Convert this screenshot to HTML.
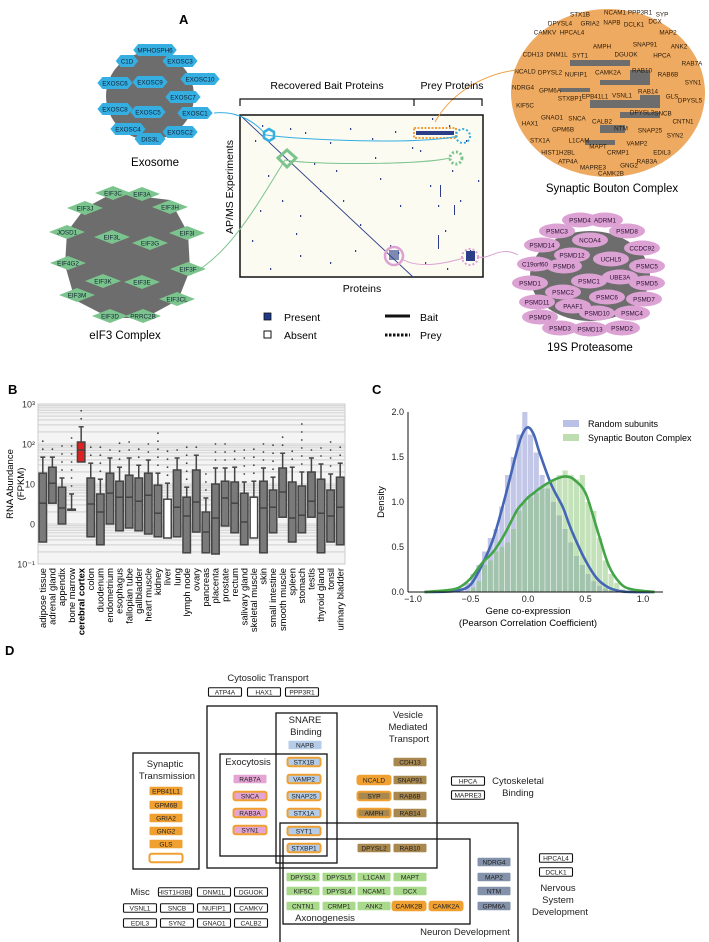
<!DOCTYPE html>
<html><head><meta charset="utf-8"><style>
html,body{margin:0;padding:0;background:#fff}
svg{display:block;font-family:"Liberation Sans",Arial,sans-serif}
</style></head><body>
<svg id="fig" width="709" height="942" viewBox="0 0 709 942" xmlns="http://www.w3.org/2000/svg">
<g id="A"></g>
<g id="B"></g>
<g id="C"></g>
<g id="D"></g>
</svg>
<script>
// ---------- Panel B data ----------
const tissues=["adipose tissue","adrenal gland","appendix","bone marrow","cerebral cortex","colon","duodenum","endometrium","esophagus","fallopian tube","gallbladder","heart muscle","kidney","liver","lung","lymph node","ovary","pancreas","placenta","prostate","rectum","salivary gland","skeletal muscle","skin","small intestine","smooth muscle","spleen","stomach","testis","thyroid gland","tonsil","urinary bladder"];
const q3Vals=[1.27,1.42,0.92,0.37,2.05,1.15,0.75,1.27,1.07,1.22,1.15,1.27,0.97,0.62,1.35,0.67,1.35,0.3,1.0,1.07,1.05,0.77,0.67,1.07,0.85,1.4,1.05,0.95,1.3,1.12,0.85,1.17];
const medVals=[0.52,1.02,0.4,0.37,1.85,0.5,0.3,0.77,0.67,0.67,0.57,0.72,0.27,0.62,0.42,0.2,0.55,-0.2,0.15,0.65,0.52,0.05,0.67,0.4,0.42,0.8,0.15,0.22,0.57,0.27,0.2,0.42];
const q1Vals=[-0.45,0.52,0.0,0.37,1.55,-0.32,-0.52,0.0,-0.17,-0.1,-0.17,-0.25,-0.32,-0.35,-0.32,-0.72,-0.2,-0.72,-0.75,-0.05,-0.22,-0.52,-0.35,-0.72,-0.22,0.17,-0.45,-0.22,0.17,-0.72,-0.45,-0.52];
const hiVals=[1.67,1.67,1.15,0.75,2.43,1.52,1.12,1.65,1.42,1.65,1.47,1.6,1.27,1.02,1.65,0.92,1.72,0.65,1.4,1.4,1.42,1.05,1.07,1.4,1.17,1.77,1.42,1.3,1.65,1.5,1.25,1.52];
const outMax=[2.1,2.05,2.0,2.2,2.95,2.05,1.95,2.0,2.1,2.05,2.05,2.05,2.3,2.0,2.0,2.0,2.0,1.4,2.1,2.0,2.0,2.0,2.0,2.0,2.0,2.2,2.0,2.55,2.0,2.05,2.05,2.0];
const bTicks=["10³","10²","10","0","10⁻¹"];
const bTickVals=[3,2,1,0,-1];
// ---------- Panel C data ----------
const binStarts=[-0.6,-0.55,-0.5,-0.45,-0.4,-0.35,-0.3,-0.25,-0.2,-0.15,-0.1,-0.05,0,0.05,0.1,0.15,0.2,0.25,0.3,0.35,0.4,0.45,0.5,0.55,0.6,0.65,0.7,0.75,0.8];
const randomHist=[0.02,0.1,0.2,0.3,0.45,0.6,0.7,0.95,1.3,1.5,1.75,2.0,1.75,1.55,1.3,1.15,1.0,0.85,0.7,0.55,0.4,0.3,0.2,0.12,0.07,0.04,0.02,0,0];
const boutonHist=[0,0,0.05,0.12,0.3,0.35,0.45,0.5,0.55,0.7,0.9,1.0,1.05,1.1,1.15,1.2,1.25,1.3,1.35,1.3,1.25,1.3,1.0,0.9,0.6,0.35,0.2,0.1,0.03];
const kdeX=[-0.9,-0.7,-0.6,-0.5,-0.4,-0.3,-0.2,-0.1,-0.05,0,0.05,0.1,0.2,0.3,0.35,0.4,0.5,0.6,0.7,0.8,0.9,1.1];
const randomKde=[0,0.005,0.02,0.08,0.3,0.6,1.05,1.55,1.75,1.83,1.75,1.55,1.2,0.95,0.78,0.62,0.35,0.15,0.05,0.01,0,0];
const boutonKde=[0,0.02,0.05,0.15,0.32,0.45,0.65,0.9,0.98,1.05,1.1,1.15,1.23,1.28,1.28,1.25,1.1,0.7,0.3,0.1,0.03,0];
const cXTicks=[-1,-0.5,0,0.5,1];
const cXLabels=["−1.0","−0.5","0.0","0.5","1.0"];
const cYTicks=[0,0.5,1,1.5,2];
const cYLabels=["0.0","0.5","1.0","1.5","2.0"];

const NS="http://www.w3.org/2000/svg";
function mk(parent,tag,attrs,text){const e=document.createElementNS(NS,tag);for(const k in attrs)e.setAttribute(k,attrs[k]);if(text!==undefined)e.textContent=text;parent.appendChild(e);return e;}

// ================= PANEL A =================
const A=document.getElementById('A');
let t=mk(A,'text',{x:179,y:24,'font-size':13,'font-weight':'bold'},'A');


let g=mk(A,'g',{});


mk(g,'circle',{cx:150,cy:96,r:44,fill:'#6d6d6d'});
const exo=[["MPHOSPH6",155,50],["C1D",127,61],["EXOSC3",180,61],["EXOSC6",115,83],["EXOSC9",150,82],["EXOSC10",200,79],["EXOSC7",183,97],["EXOSC8",115,109],["EXOSC5",148,112],["EXOSC1",195,113],["EXOSC4",128,129],["EXOSC2",180,132],["DIS3L",150,139]];
exo.forEach(n=>{const w=n[0].length*4.2+10;const x=n[1],y=n[2];
 let p=mk(g,'polygon',{points:`${x-w/2},${y} ${x-w/2+5},${y-6} ${x+w/2-5},${y-6} ${x+w/2},${y} ${x+w/2-5},${y+6} ${x-w/2+5},${y+6}`,fill:'#35aee2'});
 
 
 mk(g,'text',{x:x,y:y+2.3,'font-size':6.3,'text-anchor':'middle',fill:'#123'},n[0]);});
t=mk(A,'text',{x:155,y:166,'font-size':11.5,'text-anchor':'middle'},'Exosome');


g=mk(A,'g',{});


mk(g,'polygon',{points:'113,193 170,200 188,233 190,270 178,300 145,318 110,318 75,300 65,265 67,232 85,208',fill:'#6d6d6d'});
const eif=[["EIF3C",113,193],["EIF3A",142,194],["EIF3J",85,208],["EIF3H",170,207],["JOSD1",67,232],["EIF3L",112,237],["EIF3G",150,243],["EIF3I",187,233],["EIF4G2",68,263],["EIF3F",188,269],["EIF3K",103,281],["EIF3E",142,282],["EIF3M",77,295],["EIF3CL",177,299],["EIF3D",110,316],["PRRC2B",143,316]];
eif.forEach(n=>{const x=n[1],y=n[2];
 let p=mk(g,'polygon',{points:`${x-18},${y} ${x},${y-7} ${x+18},${y} ${x},${y+7}`,fill:'#7cc48e'});
 
 
 mk(g,'text',{x:x,y:y+2.3,'font-size':6.3,'text-anchor':'middle',fill:'#123'},n[0]);});
t=mk(A,'text',{x:125,y:339,'font-size':11.5,'text-anchor':'middle'},'eIF3 Complex');


g=mk(A,'g',{});


mk(g,'ellipse',{cx:608,cy:93,rx:97,ry:84,fill:'#eeaa60'});
[[570,60,60,6],[600,80,50,5],[590,100,70,8],[560,88,30,4],[620,112,40,6],[600,125,25,8],[630,70,20,10],[585,140,30,5],[640,95,20,5]].forEach(r=>mk(g,'rect',{x:r[0],y:r[1],width:r[2],height:r[3],fill:'#6d6d6d'}));
const bout=[["STX1B",580,14],["NCAM1",615,12],["PPP3R1",640,12],["SYP",662,14],["DPYSL4",560,23],["GRIA2",590,23],["NAPB",612,22],["DCLK1",634,24],["DCX",655,21],["CAMKV",545,32],["HPCAL4",572,32],["MAP2",668,32],["AMPH",602,46],["SNAP91",645,44],["ANK2",679,46],["CDH13",533,54],["DNM1L",557,54],["SYT1",580,55],["DGUOK",626,54],["HPCA",662,55],["RAB7A",692,63],["NCALD",525,71],["DPYSL2",550,72],["NUFIP1",576,74],["CAMK2A",608,72],["RAB10",642,70],["RAB6B",668,74],["SYN1",693,82],["NDRG4",523,87],["GPM6A",550,90],["STXBP1",570,98],["EPB41L1",595,96],["VSNL1",622,95],["RAB14",648,91],["GLS",672,96],["DPYSL5",690,100],["KIF5C",525,105],["DPYSL3",642,112],["SNCB",663,113],["GNAO1",552,117],["SNCA",577,118],["CALB2",602,121],["CNTN1",683,121],["HAX1",530,123],["GPM6B",563,129],["NTM",621,128],["SNAP25",650,130],["SYN2",675,135],["STX1A",540,140],["L1CAM",579,140],["MAPT",598,146],["VAMP2",637,143],["HIST1H2BL",558,152],["CRMP1",618,152],["EDIL3",662,152],["ATP4A",568,161],["RAB3A",647,161],["MAPRE3",593,167],["GNG2",629,165],["CAMK2B",611,173]];
bout.forEach(n=>{let tt=mk(g,'text',{x:n[1],y:n[2]+2.3,'font-size':6.3,'text-anchor':'middle',fill:'#2a1a0a'},n[0]);
 
 });
t=mk(A,'text',{x:612,y:192,'font-size':11.5,'text-anchor':'middle'},'Synaptic Bouton Complex');


g=mk(A,'g',{});


mk(g,'ellipse',{cx:590,cy:276,rx:60,ry:45,fill:'#6d6d6d'});
const prot=[["PSMD4",580,220],["ADRM1",605,220],["PSMC3",557,231],["PSMD8",627,231],["NCOA4",590,240],["PSMD14",542,245],["CCDC92",642,248],["PSMD12",572,255],["UCHL5",611,259],["C19orf60",535,264],["PSMD6",564,266],["PSMC5",647,266],["UBE3A",620,277],["PSMC1",589,281],["PSMD1",530,283],["PSMD5",647,283],["PSMC2",563,292],["PSMC6",607,297],["PSMD7",644,299],["PSMD11",537,302],["PAAF1",573,306],["PSMD10",597,313],["PSMC4",632,313],["PSMD9",540,317],["PSMD3",560,328],["PSMD13",590,329],["PSMD2",622,328]];
prot.forEach(n=>{let e=mk(g,'ellipse',{cx:n[1],cy:n[2],rx:18,ry:7.5,fill:'#dca2d4'});
 
 });
prot.forEach(n=>mk(g,'text',{x:n[1],y:n[2]+2.3,'font-size':6.3,'text-anchor':'middle',fill:'#2a1030'},n[0]));
t=mk(A,'text',{x:590,y:351,'font-size':11.5,'text-anchor':'middle'},'19S Proteasome');


g=mk(A,'g',{});


mk(g,'rect',{x:240,y:115,width:243,height:162,fill:'#fbfbf1',stroke:'#111','stroke-width':1.5});
mk(g,'line',{x1:241,y1:116,x2:413,y2:277,stroke:'#2c3e88','stroke-width':0.9});
const dots=[[255,140],[262,125],[290,128],[305,132],[330,142],[350,128],[372,138],[395,131],[412,147],[268,175],[282,200],[300,215],[320,190],[343,200],[360,224],[380,178],[400,205],[252,240],[270,268],[300,255],[330,262],[355,250],[390,245],[420,150],[430,185],[438,205],[445,230],[452,170],[460,200],[470,250],[478,180],[425,262],[447,268],[466,140],[432,118],[449,125],[314,163],[336,170],[375,157],[398,252],[260,210],[296,233]];
dots.forEach(d=>mk(g,'rect',{x:d[0],y:d[1],width:1.2,height:2,fill:'#2c3e88'}));
[[440,185,12],[454,205,10],[438,235,14]].forEach(d=>mk(g,'rect',{x:d[0],y:d[1],width:1,height:d[2],fill:'#2c3e88'}));
mk(g,'rect',{x:414,y:128,width:42,height:10,fill:'none',stroke:'#f0a040','stroke-width':2,'stroke-dasharray':'2,1.5'});
mk(g,'rect',{x:416,y:131,width:38,height:4,fill:'#2c3e88'});
mk(g,'circle',{cx:463,cy:136,r:7,fill:'none',stroke:'#35aee2','stroke-width':2,'stroke-dasharray':'2,2'});
mk(g,'circle',{cx:456,cy:158,r:6,fill:'none',stroke:'#7cc48e','stroke-width':3,'stroke-dasharray':'2,2'});
mk(g,'circle',{cx:470,cy:257,r:8,fill:'none',stroke:'#dca2d4','stroke-width':2,'stroke-dasharray':'2,2'});
mk(g,'rect',{x:466,y:251,width:9,height:10,fill:'#2c3e88'});
mk(g,'polygon',{points:'264,132 269,129 274,132 274,138 269,141 264,138',fill:'none',stroke:'#35aee2','stroke-width':2.5});
mk(g,'polygon',{points:'287,150 296,158 287,167 278,158',fill:'none',stroke:'#7cc48e','stroke-width':3});
mk(g,'circle',{cx:394,cy:256,r:9,fill:'none',stroke:'#dca2d4','stroke-width':2.5});
mk(g,'rect',{x:389,y:250,width:10,height:10,fill:'#2c3e88',opacity:0.6});
mk(A,'path',{d:'M214,113 C240,110 258,125 266,135 C300,140 420,145 458,136',fill:'none',stroke:'#35aee2','stroke-width':1});
mk(A,'path',{d:'M190,275 C230,255 260,200 285,160 C310,165 420,165 450,158',fill:'none',stroke:'#7cc48e','stroke-width':1});
mk(A,'path',{d:'M516,70 C480,75 450,95 435,122',fill:'none',stroke:'#f0a040','stroke-width':1});
mk(A,'path',{d:'M518,255 C500,245 490,260 478,257 M402,259 C420,270 450,262 464,258',fill:'none',stroke:'#dca2d4','stroke-width':1});
mk(A,'path',{d:'M240,106 V99 H414 V106 M414,99 H482 V106',fill:'none',stroke:'#111','stroke-width':1.2});
t=mk(A,'text',{x:327,y:89,'font-size':10.5,'text-anchor':'middle'},'Recovered Bait Proteins');


t=mk(A,'text',{x:452,y:89,'font-size':10.5,'text-anchor':'middle'},'Prey Proteins');


t=mk(A,'text',{x:362,y:292,'font-size':10.5,'text-anchor':'middle'},'Proteins');


t=mk(A,'text',{x:0,y:0,'font-size':10.5,'text-anchor':'middle',transform:'translate(233,187) rotate(-90)'},'AP/MS Experiments');


g=mk(A,'g',{});


mk(g,'rect',{x:264,y:313,width:7,height:7,fill:'#1f3a8a',stroke:'#111','stroke-width':0.8});
mk(g,'text',{x:284,y:321,'font-size':10.5},'Present');
mk(g,'rect',{x:264,y:331,width:7,height:7,fill:'#fff',stroke:'#111','stroke-width':1});
mk(g,'text',{x:284,y:339,'font-size':10.5},'Absent');
mk(g,'line',{x1:385,y1:316,x2:410,y2:316,stroke:'#111','stroke-width':3});
mk(g,'text',{x:420,y:321,'font-size':10.5},'Bait');
mk(g,'line',{x1:385,y1:335,x2:410,y2:335,stroke:'#111','stroke-width':3,'stroke-dasharray':'2.5,1.5'});
mk(g,'text',{x:420,y:339,'font-size':10.5},'Prey');

// ================= PANEL B =================
const B=document.getElementById('B');
const bx0=38,bx1=345,by0=404,by1=564;
const yB=l=>by0+(3-l)*(by1-by0)/4;
const cw=(bx1-bx0)/tissues.length;
const xB=i=>bx0+(i+0.5)*cw;
t=mk(B,'text',{x:8,y:394,'font-size':13,'font-weight':'bold'},'B');


mk(B,'rect',{x:bx0,y:by0,width:bx1-bx0,height:by1-by0,fill:'#f4f4f4',stroke:'#ccc'});
for(let d=-1;d<3;d++)for(let k=1;k<10;k++){const l=d+Math.log10(k);mk(B,'line',{x1:bx0,x2:bx1,y1:yB(l),y2:yB(l),stroke:'#c8c8c8','stroke-width':0.8});}
bTickVals.forEach((v,i)=>{let tt=mk(B,'text',{x:bx0-3,y:yB(v)+3.5,'font-size':9,'text-anchor':'end',fill:'#333'},bTicks[i]);
 
 });
t=mk(B,'text',{x:0,y:0,'font-size':9.5,'text-anchor':'middle',transform:'translate(13,484) rotate(-90)'},'RNA Abundance');


mk(B,'text',{x:0,y:0,'font-size':9.5,'text-anchor':'middle',transform:'translate(24,484) rotate(-90)'},'(FPKM)');
tissues.forEach((name,i)=>{
 const x=xB(i),cc=i===4;const w=cw*0.78;
 const gg=mk(B,'g',{});
 
 
 for(let l=hiVals[i]+0.2;l<=outMax[i]+0.001;l+=0.2)mk(gg,'circle',{cx:x,cy:yB(l),r:0.9,fill:'#444'});
 mk(gg,'line',{x1:x,x2:x,y1:yB(hiVals[i]),y2:yB(q3Vals[i]),stroke:'#444','stroke-width':1.5});
 mk(gg,'line',{x1:x-w/3,x2:x+w/3,y1:yB(hiVals[i]),y2:yB(hiVals[i]),stroke:'#444','stroke-width':1.5});
 const white=(name==='liver'||name==='skeletal muscle');
 mk(gg,'rect',{x:x-w/2,y:yB(q3Vals[i]),width:w,height:Math.max(1,yB(q1Vals[i])-yB(q3Vals[i])),fill:cc?'#e02020':(white?'#fff':'#7a7a7a'),stroke:'#444','stroke-width':1.5});
 if(!white)mk(gg,'line',{x1:x-w/2,x2:x+w/2,y1:yB(medVals[i]),y2:yB(medVals[i]),stroke:'#444','stroke-width':1.5});
 let tt=mk(B,'text',{x:0,y:0,'font-size':9.4,'text-anchor':'end','font-weight':cc?'bold':'normal',transform:`translate(${x+3.2},568) rotate(-90)`},name);
 
 
});

// ================= PANEL C =================
const C=document.getElementById('C');
const cx0=413,cx1=643,cy0=592,cy1=412;
const xC=v=>cx0+(v+1)*(cx1-cx0)/2;
const yC=v=>cy0-(v)*(cy0-cy1)/2;
t=mk(C,'text',{x:372,y:394,'font-size':13,'font-weight':'bold'},'C');


const bw=0.05;
binStarts.forEach((b,i)=>{let r=mk(C,'rect',{x:xC(b),y:yC(randomHist[i]),width:xC(b+bw)-xC(b)-0.6,height:cy0-yC(randomHist[i]),fill:'rgba(120,130,205,0.45)'});
 
 });
binStarts.forEach((b,i)=>{let r=mk(C,'rect',{x:xC(b),y:yC(boutonHist[i]),width:xC(b+bw)-xC(b)-0.6,height:cy0-yC(boutonHist[i]),fill:'rgba(125,190,100,0.45)'});
 
 });
function smooth(xs,ys){const P=xs.map((x,i)=>[xC(x),yC(ys[i])]);let d=`M${P[0][0]},${P[0][1]}`;
 for(let i=0;i<P.length-1;i++){const p0=P[Math.max(0,i-1)],p1=P[i],p2=P[i+1],p3=P[Math.min(P.length-1,i+2)];
 const c1=[p1[0]+(p2[0]-p0[0])/6,p1[1]+(p2[1]-p0[1])/6],c2=[p2[0]-(p3[0]-p1[0])/6,p2[1]-(p3[1]-p1[1])/6];
 d+=` C${c1[0]},${c1[1]} ${c2[0]},${c2[1]} ${p2[0]},${p2[1]}`;}return d;}
let p=mk(C,'path',{d:smooth(kdeX,randomKde),fill:'none',stroke:'#4466b4','stroke-width':2.6});


p=mk(C,'path',{d:smooth(kdeX,boutonKde),fill:'none',stroke:'#44a448','stroke-width':2.6});


mk(C,'line',{x1:408,x2:408,y1:cy1,y2:cy0,stroke:'#111','stroke-width':1});
mk(C,'line',{x1:408,x2:663,y1:cy0,y2:cy0,stroke:'#111','stroke-width':1});
cXTicks.forEach((v,i)=>{let tt=mk(C,'text',{x:xC(v),y:602,'font-size':9,'text-anchor':'middle',fill:'#222'},cXLabels[i]);
 
 });
cYTicks.forEach((v,i)=>{let tt=mk(C,'text',{x:404,y:yC(v)+3,'font-size':9,'text-anchor':'end',fill:'#222'},cYLabels[i]);
 
 });
t=mk(C,'text',{x:528,y:614,'font-size':9.5,'text-anchor':'middle'},'Gene co-expression');


mk(C,'text',{x:528,y:626,'font-size':9.5,'text-anchor':'middle'},'(Pearson Correlation Coefficient)');
t=mk(C,'text',{x:0,y:0,'font-size':9.5,'text-anchor':'middle',transform:'translate(384,502) rotate(-90)'},'Density');


g=mk(C,'g',{});


mk(g,'rect',{x:563,y:420,width:16,height:7,fill:'rgba(120,130,205,0.5)'});
mk(g,'text',{x:588,y:427,'font-size':9},'Random subunits');
mk(g,'rect',{x:563,y:434,width:16,height:7,fill:'rgba(125,190,100,0.5)'});
mk(g,'text',{x:588,y:441,'font-size':9},'Synaptic Bouton Complex');

// ================= PANEL D =================
const D=document.getElementById('D');
t=mk(D,'text',{x:5,y:655,'font-size':13,'font-weight':'bold'},'D');


const boxes=[["vesicle-box",207,706,230,162],["snare-box",276,713,61,150],["exocytosis-box",220,754,107,102],["synaptic-transmission-box",133,753,66,116],["neuron-development-box",280,823,238,125],["axonogenesis-box",283,839,187,85]];
boxes.forEach(b=>{let r=mk(D,'rect',{x:b[1],y:b[2],width:b[3],height:b[4],fill:'none',stroke:'#111','stroke-width':1.3});
 
 });
const labels=[["Cytosolic Transport",268,681],["Vesicle",408,718],["Mediated",408,730],["Transport",409,742],["SNARE",305,723],["Binding",306,735],["Exocytosis",248,765],["Synaptic",165,767],["Transmission",167,779],["Cytoskeletal",518,784],["Binding",518,796],["Misc",140,895],["Axonogenesis",325,921],["Neuron Development",465,935],["Nervous",558,891],["System",558,903],["Development",560,915]];
labels.forEach(l=>{let tt=mk(D,'text',{x:l[1],y:l[2],'font-size':9.5,'text-anchor':'middle',fill:'#222'},l[0]);
 
 });
const COL={o:'#f0a030',b:'#a8884e',g:'#a9d98b',u:'#b4cce8',p:'#e4a4d4',s:'#8392aa',w:'#fff'};
const chips=[["ATP4A",225,692,'w','k'],["HAX1",264,692,'w','k'],["PPP3R1",302,692,'w','k'],
["NAPB",305,745,'u',''],["STX1B",304,762,'u','o'],["VAMP2",304,779,'u','o'],["SNAP25",304,796,'u','o'],["STX1A",304,813,'u','o'],["SYT1",304,831,'u','o'],["STXBP1",304,848,'u','o'],
["RAB7A",250,779,'p',''],["SNCA",250,796,'p','o'],["RAB3A",250,813,'p','o'],["SYN1",250,830,'p','o'],
["EPB41L1",166,791,'o',''],["GPM6B",166,805,'o',''],["GRIA2",166,818,'o',''],["GNG2",166,831,'o',''],["GLS",166,844,'o',''],["",166,858,'w','o'],
["CDH13",410,762,'b',''],["NCALD",374,780,'o','o'],["SNAP91",410,780,'b',''],["SYP",374,796,'b','o'],["RAB6B",410,796,'b',''],["AMPH",374,813,'b','o'],["RAB14",410,813,'b',''],["DPYSL2",374,848,'b',''],["RAB10",410,848,'b',''],
["DPYSL3",303,877,'g',''],["DPYSL5",339,877,'g',''],["L1CAM",374,877,'g',''],["MAPT",410,877,'g',''],
["KIF5C",303,891,'g',''],["DPYSL4",339,891,'g',''],["NCAM1",374,891,'g',''],["DCX",410,891,'g',''],
["CNTN1",303,906,'g',''],["CRMP1",339,906,'g',''],["ANK2",374,906,'g',''],["CAMK2B",409,906,'o','o'],["CAMK2A",446,906,'o','o'],
["NDRG4",494,862,'s',''],["MAP2",494,877,'s',''],["NTM",494,891,'s',''],["GPM6A",494,906,'s',''],
["HPCA",468,781,'w','k'],["MAPRE3",468,795,'w','k'],["HPCAL4",556,858,'w','k'],["DCLK1",556,872,'w','k'],
["HIST1H3BL",175,892,'w','k'],["DNM1L",214,892,'w','k'],["DGUOK",251,892,'w','k'],
["VSNL1",140,908,'w','k'],["SNCB",177,908,'w','k'],["NUFIP1",214,908,'w','k'],["CAMKV",251,908,'w','k'],
["EDIL3",140,923,'w','k'],["SYN2",177,923,'w','k'],["GNAO1",214,923,'w','k'],["CALB2",251,923,'w','k']];
chips.forEach(c=>{const w=33,h=8.5;
 const stroke=c[4]==='k'?'#111':(c[4]==='o'?'#f0a030':'none');
 let r=mk(D,'rect',{x:c[1]-w/2,y:c[2]-h/2,width:w,height:h,rx:c[4]==='o'?2:1,fill:COL[c[3]],stroke:stroke,'stroke-width':c[4]==='o'?2:1.1});
 
 
 if(c[0])mk(D,'text',{x:c[1],y:c[2]+2.4,'font-size':6.6,'text-anchor':'middle',fill:'#222'},c[0]);});
</script>
</body></html>
